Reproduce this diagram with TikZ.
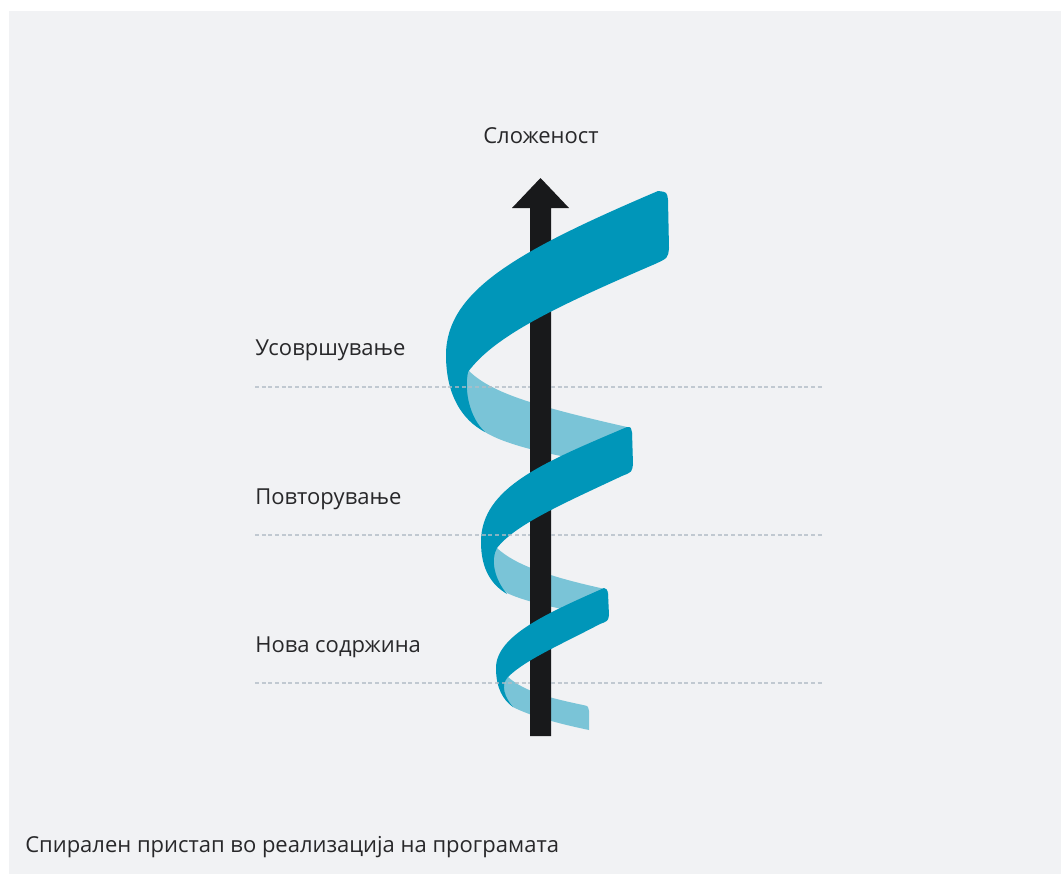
\documentclass[tikz,border=0pt]{standalone}
\usepackage{fontspec}
\setmainfont{Open Sans}
\definecolor{pagebg}{RGB}{241, 242, 244}
\definecolor{ribbondark}{RGB}{0, 150, 185}
\definecolor{ribbonlight}{RGB}{122, 196, 215}
\definecolor{axisblack}{RGB}{24, 25, 27}
\definecolor{levelgray}{RGB}{178, 188, 198}
\definecolor{textgray}{RGB}{40, 40, 42}
\usetikzlibrary{positioning}

\begin{document}
\begin{tikzpicture}[x=0.75pt, y=-0.75pt,
  front/.style={fill=ribbondark},
  back/.style={fill=ribbonlight},
  level/.style={levelgray, line width=1.6pt, dash pattern=on 3pt off 2pt, opacity=0.75},
  lbl/.style={font=\fontsize{16.5}{20}\selectfont, textgray, inner sep=0pt, anchor=base west},
]
% Page
\useasboundingbox (0,0) rectangle (1061,874);
\fill[white] (0,0) rectangle (1061,874);
\fill[pagebg] (9,11) rectangle (1061,874);

% Spiral, back side
\fill[back] (468,370) .. controls (490,392) and (530,405) .. (627,427)
  -- (632,432) -- (632,465) .. controls (580,462) and (510,448) .. (485,432)
  .. controls (455,415) and (450,385) .. (468,370) -- cycle;
\fill[back] (497,548) .. controls (515,565) and (550,577) .. (605,589)
  -- (608,592) -- (608,616) .. controls (570,612) and (525,602) .. (507,593)
  .. controls (488,580) and (485,560) .. (497,548) -- cycle;
\fill[back] (508,677) .. controls (525,692) and (550,698) .. (583,705)
  .. controls (588,706) .. (589,711) -- (589,730)
  .. controls (560,724) and (530,716) .. (513,707)
  .. controls (500,697) and (498,685) .. (508,677) -- cycle;

% Axis
\coordinate (axisbase) at (540.5,736);
\coordinate (axistip) at (540.5,178);
\fill[axisblack] (axisbase) ++(-10.5,0) |- (512,208) -- (axistip) -- (569,208) -| (551,736) -- cycle;

% Spiral, front side
\fill[front] (658,191) .. controls (520,250) and (446,290) .. (446,355)
  .. controls (446,395) and (462,420) .. (485,432)
  .. controls (470,418) and (464,392) .. (468,372)
  .. controls (495,335) and (560,305) .. (655,264)
  .. controls (668,258) .. (669,248) -- (668,200)
  .. controls (667,192) .. (658,191) -- cycle;
\fill[front] (627,427) .. controls (545,462) and (481,487) .. (481,542)
  .. controls (481,570) and (492,585) .. (507,594)
  .. controls (495,580) and (490,560) .. (497,548)
  .. controls (515,525) and (560,505) .. (622,476)
  .. controls (632,472) .. (633,464) -- (632,433)
  .. controls (631,427) .. (627,427) -- cycle;
\fill[front] (604,588) .. controls (550,612) and (496,635) .. (496,668)
  .. controls (496,688) and (503,700) .. (513,707)
  .. controls (505,698) and (500,685) .. (508,677)
  .. controls (525,660) and (560,645) .. (600,624)
  .. controls (608,621) .. (609,615) -- (608,594)
  .. controls (607,589) .. (604,588) -- cycle;

% Levels
\draw[level] (255,387) -- (530,387) (551,387) -- (822,387);
\draw[level] (255,535) -- (530,535) (551,535) -- (822,535);
\draw[level] (255,683) -- (530,683) (551,683) -- (822,683);

% Labels
\node[lbl, anchor=base] (complexity) at (541,143) {Сложеност};
\node[lbl] (refine) at (255,355) {Усовршување};
\node[lbl] (repeat) at (255,504) {Повторување};
\node[lbl] (newcontent) at (255,652) {Нова содржина};
\node[lbl] (caption) at (25,852) {Спирален пристап во реализација на програмата};
\end{tikzpicture}
\end{document}
